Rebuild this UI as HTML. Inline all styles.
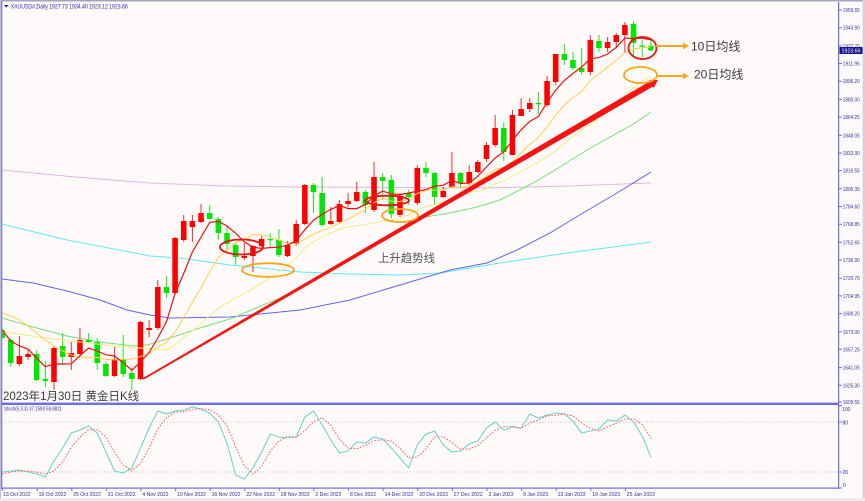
<!DOCTYPE html>
<html><head><meta charset="utf-8">
<style>
html,body{margin:0;padding:0;background:#fffafa;width:865px;height:501px;overflow:hidden}
svg{display:block}
</style></head>
<body>
<svg width="865" height="501" viewBox="0 0 865 501" xmlns="http://www.w3.org/2000/svg" font-family="Liberation Sans, sans-serif">
<defs>
<clipPath id="cm"><rect x="2" y="2" width="836.5" height="400.5"/></clipPath>
<clipPath id="cs"><rect x="2" y="405" width="836.5" height="83"/></clipPath>
</defs>
<rect x="0" y="0" width="865" height="501" fill="#fffafa"/>
<!-- frame -->
<rect x="0" y="0" width="865" height="1.5" fill="#a4a4bc"/>
<rect x="0" y="0" width="1" height="501" fill="#c0c0cc"/>
<rect x="1" y="1" width="1.3" height="488" fill="#7f7fd6"/>
<rect x="862.5" y="0" width="2.5" height="501" fill="#d4d4dc"/>
<rect x="0" y="498" width="865" height="3" fill="#ececee"/>

<!-- main chart -->
<g clip-path="url(#cm)">
 <!-- long MAs -->
 <polyline fill="none" stroke="#e2b6ea" stroke-width="1" points="2,170 75,177 150,183 225,186 300,187 400,187.5 485,188 570,186 651,183"/>
 <polyline fill="none" stroke="#5ee9f6" stroke-width="1" points="2,224 67,240 130,252 150,256 180,258 230,265 270,269 300,272 350,274 400,275 440,273 500,263 567,253 651,242"/>
 <polyline fill="none" stroke="#6464e6" stroke-width="1" points="2,279 33,283 67,291 100,300 127,310 150,315 170,318 230,317 300,310 350,300 400,285 450,270 487,263 517,250 550,233 583,213 617,193 651,172"/>
 <polyline fill="none" stroke="#78e078" stroke-width="1" points="2,318 33,327 67,336 100,342 133,346 147,345 167,339 200,328 233,318 263,305 280,298 300,288 340,265 380,242 418,218 450,213 477,207 500,200 533,183 560,167 587,150 608,138 632,125 651,112"/>

 <g transform="matrix(8.65 0 0 1 2.1 0)">
  <!-- wicks -->
  <path fill="none" stroke="#22e622" stroke-width="1" vector-effect="non-scaling-stroke" d="M0 326V340M1 338V367M4 350V381M5 361V387M7 333V365M10 333V343M11 338V370M12 362V377M14 335V377M15 368V390M19 276V298M24 205V220M25 217V240M26 227V251M27 242V265M31 233V247M32 229V257M36 183V213M37 177V227M42 190V213M44 173V200M45 175V218M47 190V205M49 162V177M50 172V205M53 172V188M58 122V161M62 92V114M65 44V65M66 52V70M67 48V75M69 35V52M73 21V57M74 40V57M75 38.3V51"/>
  <path fill="none" stroke="#ff2a2a" stroke-width="1" vector-effect="non-scaling-stroke" d="M2 336V366M3 349V360M6 346V390M8 342V370M9 328V355M13 347V377M16 321V380M17 320V337M18 280V330M20 237V294M21 215V242M22 215V242M23 204V223M28 243V260M29 245V272M30 236V247M33 241V257M34 220V246M35 184V225M38 207V225M39 200V223M40 193V207M41 182V202M43 162V212M46 193V217M48 165V205M51 187V198M52 152V188M54 165V185M55 160V173M56 142V162M57 115V147M59 110V155M60 98V116M61 98V112M63 76V107M64 54V85M68 35V75M70 37V52M71 33V47M72 22V53"/>
  <!-- bodies -->
  <path fill="#00e600" d="M-0.32 330h0.64V338h-0.64zM0.68 340h0.64V363h-0.64zM3.68 354h0.64V380h-0.64zM4.68 379h0.64V381h-0.64zM6.68 346h0.64V357h-0.64zM9.68 340h0.64V342h-0.64zM10.68 342h0.64V363h-0.64zM11.68 364h0.64V376h-0.64zM13.68 359h0.64V374h-0.64zM14.68 373h0.64V379h-0.64zM18.68 287h0.64V293h-0.64zM23.68 213h0.64V219h-0.64zM24.68 219h0.64V233h-0.64zM25.68 233h0.64V244h-0.64zM26.68 245h0.64V257h-0.64zM30.68 239h0.64V240.2h-0.64zM31.68 240h0.64V255h-0.64zM35.68 185h0.64V192h-0.64zM36.68 193h0.64V225h-0.64zM41.68 192h0.64V205h-0.64zM43.68 177h0.64V181h-0.64zM44.68 180h0.64V214h-0.64zM46.68 193h0.64V197h-0.64zM48.68 168h0.64V173h-0.64zM49.68 173h0.64V197h-0.64zM52.68 173h0.64V183h-0.64zM57.68 128h0.64V152h-0.64zM61.68 103h0.64V104.2h-0.64zM64.68 54h0.64V60h-0.64zM65.68 60h0.64V68h-0.64zM66.68 68h0.64V72h-0.64zM68.68 41h0.64V48h-0.64zM72.68 24h0.64V43h-0.64zM73.68 45.5h0.64V46.8h-0.64zM74.68 45.8h0.64V50.4h-0.64z"/>
  <path fill="#ff0000" d="M1.68 356h0.64V364h-0.64zM2.68 354h0.64V357h-0.64zM5.68 348h0.64V382h-0.64zM7.68 353h0.64V357h-0.64zM8.68 340h0.64V354h-0.64zM12.68 359h0.64V376h-0.64zM15.68 322h0.64V379h-0.64zM16.68 328h0.64V330h-0.64zM17.68 287h0.64V328h-0.64zM19.68 238h0.64V293h-0.64zM20.68 221h0.64V240h-0.64zM21.68 221h0.64V227h-0.64zM22.68 213h0.64V222h-0.64zM27.68 256h0.64V258h-0.64zM28.68 246h0.64V256h-0.64zM29.68 239h0.64V246h-0.64zM32.68 245h0.64V256h-0.64zM33.68 224h0.64V244h-0.64zM34.68 185h0.64V224h-0.64zM37.68 221h0.64V224h-0.64zM38.68 204h0.64V222h-0.64zM39.68 201h0.64V204h-0.64zM40.68 192h0.64V201h-0.64zM42.68 177h0.64V210h-0.64zM45.68 196h0.64V215h-0.64zM47.68 168h0.64V203h-0.64zM50.68 191h0.64V197h-0.64zM51.68 173h0.64V187h-0.64zM53.68 172h0.64V183h-0.64zM54.68 162h0.64V172h-0.64zM55.68 145h0.64V159h-0.64zM56.68 128h0.64V145h-0.64zM58.68 115h0.64V155h-0.64zM59.68 109h0.64V116h-0.64zM60.68 103h0.64V109h-0.64zM62.68 81h0.64V105h-0.64zM63.68 54h0.64V82h-0.64zM67.68 40h0.64V72h-0.64zM69.68 42h0.64V48h-0.64zM70.68 35h0.64V42h-0.64zM71.68 25h0.64V35h-0.64z"/>
  <!-- MA20 pale yellow -->
  <polyline fill="none" stroke="#f4ec7c" stroke-width="1" vector-effect="non-scaling-stroke" points="0,332 2,334 4,337 6,339 8,341 10,343 12,345 14,347 16,348 18,349.5 19,349.7 20,344.7 21,337.6 22,330.8 23,323.8 24,315.7 25,308.3 26,303.1 27,298.1 28,293.3 29,288.6 30,283.4 31,277.3 32,271.2 33,265.5 34,258 35,248.3 36,241.8 37,236.7 38,233.4 39,228.9 40,227.1 41,225.6 42,224.8 43,223 44,221.1 45,220.2 46,217.8 47,214.8 48,210.4 49,206.7 50,204.6 51,202.2 52,198.1 53,195 54,192.4 55,191.2 56,188.9 57,184 58,180.6 59,176.1 60,171.5 61,167.1 62,162 63,157.2 64,150.9 65,143.2 66,136.8 67,130.5 68,124.1 69,117.9 70,110.1 71,102.3 72,94.9 73,87.9 74,81.6 75,76"/>
  <!-- MA10 gold -->
  <polyline fill="none" stroke="#ffd04a" stroke-width="1" vector-effect="non-scaling-stroke" points="0,313 1,316 2,320 3,326 4,333 5,340 6,346 7,351 8,355 9,357 10,357.4 11,357.4 12,359.4 13,359.9 14,359.3 15,359.1 16,356.5 17,353.6 18,347 19,342.3 20,331.9 21,317.7 22,302.2 23,287.6 24,272.1 25,257.5 26,249.7 27,242.6 28,239.5 29,234.8 30,234.9 31,236.8 32,240.2 33,243.4 34,243.9 35,239.1 36,233.9 37,230.7 38,227.2 39,223 40,219.2 41,214.4 42,209.4 43,202.6 44,198.3 45,201.2 46,201.6 47,198.8 48,193.5 49,190.4 50,190 51,189.9 52,186.7 53,187.3 54,186.4 55,181.2 56,176.1 57,169.2 58,167.6 59,161.8 60,153 61,144.2 62,137.3 63,127.1 64,115.3 65,105.1 66,97.4 67,91.8 68,80.6 69,73.9 70,67.2 71,60.4 72,52.5 73,48.7 74,47.9 75,46.9"/>
  <!-- MA5 red -->
  <polyline fill="none" stroke="#ee1111" stroke-width="1.2" vector-effect="non-scaling-stroke" points="0,330 1,341 2,346 3,349 4,358.2 5,366.8 6,363.8 7,364 8,363.8 9,355.8 10,348 11,351 12,354.8 13,356 14,362.8 15,370.2 16,362 17,352.4 18,338 19,321.8 20,293.6 21,273.4 22,252 23,237.2 24,222.4 25,221.4 26,226 27,233.2 28,241.8 29,247.2 30,248.4 31,247.6 32,247.2 33,245 34,240.6 35,229.8 36,220.2 37,214.2 38,209.4 39,205.4 40,208.6 41,208.6 42,204.6 43,195.8 44,191.2 45,193.8 46,194.6 47,193 48,191.2 49,189.6 50,186.2 51,185.2 52,180.4 53,183.4 54,183.2 55,176.2 56,167 57,158 58,151.8 59,140.4 60,129.8 61,121.4 62,116.6 63,102.4 64,90.2 65,80.4 66,73.4 67,67 68,58.8 69,57.6 70,54 71,47.4 72,38 73,38.6 74,38.2 75,39.8"/>
 </g>

 <!-- trendline arrow -->
 <polygon fill="#f41414" points="143.4,379.8 652.6,86.8 653.6,88.0 658,80 648.6,80.2 649.6,81.4 142.6,378.2"/>

 <!-- ellipses -->
 <ellipse cx="241.5" cy="247" rx="21.5" ry="7.5" fill="none" stroke="#e81010" stroke-width="1.8"/>
 <ellipse cx="268" cy="270" rx="26" ry="6.8" fill="none" stroke="#f5a81e" stroke-width="1.8"/>
 <ellipse cx="387" cy="200.5" rx="22" ry="4.8" fill="none" stroke="#e81010" stroke-width="1.8"/>
 <ellipse cx="400" cy="215.5" rx="18" ry="6.5" fill="none" stroke="#f5a81e" stroke-width="1.8"/>
 <ellipse cx="642.5" cy="48" rx="14" ry="11" fill="none" stroke="#e81010" stroke-width="1.8"/>
 <ellipse cx="640.5" cy="75" rx="16.5" ry="8" fill="none" stroke="#f5a81e" stroke-width="1.8"/>
</g>

<!-- orange arrows -->
<line x1="656" y1="46" x2="684" y2="46" stroke="#f5a81e" stroke-width="2"/>
<polygon points="683,42.8 689,46 683,49.2" fill="#f5a81e"/>
<line x1="657" y1="76" x2="684" y2="76" stroke="#f5a81e" stroke-width="2"/>
<polygon points="683,72.8 689,76 683,79.2" fill="#f5a81e"/>

<!-- annotations text -->
<g font-family="Liberation Sans, 'Noto Sans CJK SC', sans-serif" fill="#3a3a3a">
 <text x="691" y="50.5" font-size="12">10日均线</text>
 <text x="694" y="78.5" font-size="12">20日均线</text>
 <text x="378" y="262" font-size="11.4" fill="#555">上升趋势线</text>
 <text x="3" y="400" font-size="11.5" fill="#3c3c3c">2023年1月30日 黄金日K线</text>
</g>

<!-- header -->
<polygon points="4,5 8.5,5 6.25,7.6" fill="#2020a8"/>
<text x="10.7" y="8.6" font-size="6.2" fill="#2a2ab0" textLength="117" lengthAdjust="spacingAndGlyphs">XAUUSD#,Daily  1927.73 1934.40 1923.12 1923.66</text>

<!-- separators and axes -->
<rect x="2" y="402.6" width="837" height="2.4" fill="#6e6ee4"/>
<rect x="2" y="487.5" width="837" height="1.2" fill="#6e6ee4"/>
<rect x="838" y="2" width="1.2" height="487" fill="#6e6ee4"/>

<!-- price axis -->
<g stroke="#6e6ee4" stroke-width="1">
<path d="M839 10H842M839 27.7H842M839 45.9H842M839 63.5H842M839 81.2H842M839 99.4H842M839 117.1H842M839 135.3H842M839 153H842M839 170.6H842M839 188.8H842M839 206.5H842M839 224.2H842M839 242.4H842M839 260H842M839 278.2H842M839 295.9H842M839 313.6H842M839 331.8H842M839 349.4H842M839 367.6H842M839 385.3H842M839 402H842M839 405.5H842M839 422H842M839 472H842M839 488H842"/>
</g>
<g font-size="5.5" fill="#30309a">
<text x="842.8" y="12" textLength="17" lengthAdjust="spacingAndGlyphs">1959.65</text>
<text x="842.8" y="29.7" textLength="17" lengthAdjust="spacingAndGlyphs">1943.90</text>
<text x="842.8" y="47.9" textLength="17" lengthAdjust="spacingAndGlyphs">1927.70</text>
<text x="842.8" y="65.5" textLength="17" lengthAdjust="spacingAndGlyphs">1911.95</text>
<text x="842.8" y="83.2" textLength="17" lengthAdjust="spacingAndGlyphs">1896.20</text>
<text x="842.8" y="101.4" textLength="17" lengthAdjust="spacingAndGlyphs">1880.00</text>
<text x="842.8" y="119.1" textLength="17" lengthAdjust="spacingAndGlyphs">1864.25</text>
<text x="842.8" y="137.3" textLength="17" lengthAdjust="spacingAndGlyphs">1848.05</text>
<text x="842.8" y="155" textLength="17" lengthAdjust="spacingAndGlyphs">1832.30</text>
<text x="842.8" y="172.6" textLength="17" lengthAdjust="spacingAndGlyphs">1816.55</text>
<text x="842.8" y="190.8" textLength="17" lengthAdjust="spacingAndGlyphs">1800.35</text>
<text x="842.8" y="208.5" textLength="17" lengthAdjust="spacingAndGlyphs">1784.60</text>
<text x="842.8" y="226.2" textLength="17" lengthAdjust="spacingAndGlyphs">1768.85</text>
<text x="842.8" y="244.4" textLength="17" lengthAdjust="spacingAndGlyphs">1752.65</text>
<text x="842.8" y="262" textLength="17" lengthAdjust="spacingAndGlyphs">1736.90</text>
<text x="842.8" y="280.2" textLength="17" lengthAdjust="spacingAndGlyphs">1720.70</text>
<text x="842.8" y="297.9" textLength="17" lengthAdjust="spacingAndGlyphs">1704.95</text>
<text x="842.8" y="315.6" textLength="17" lengthAdjust="spacingAndGlyphs">1689.20</text>
<text x="842.8" y="333.8" textLength="17" lengthAdjust="spacingAndGlyphs">1673.00</text>
<text x="842.8" y="351.4" textLength="17" lengthAdjust="spacingAndGlyphs">1657.25</text>
<text x="842.8" y="369.6" textLength="17" lengthAdjust="spacingAndGlyphs">1641.05</text>
<text x="842.8" y="387.3" textLength="17" lengthAdjust="spacingAndGlyphs">1625.30</text>
<text x="842.8" y="404.2" textLength="17" lengthAdjust="spacingAndGlyphs">1609.55</text>
<text x="842" y="410.8" textLength="8.5" lengthAdjust="spacingAndGlyphs">100</text>
<text x="842.5" y="424.3" textLength="5.6" lengthAdjust="spacingAndGlyphs">80</text>
<text x="842.5" y="473.8" textLength="5.6" lengthAdjust="spacingAndGlyphs">20</text>
<text x="843" y="487" textLength="2.8" lengthAdjust="spacingAndGlyphs">0</text>
</g>
<!-- current price -->
<rect x="839.5" y="47" width="23" height="7" fill="#14148c"/>
<text x="841.5" y="52.6" font-size="5.5" fill="#ffffff" textLength="19" lengthAdjust="spacingAndGlyphs">1923.66</text>

<!-- stochastic -->
<g clip-path="url(#cs)">
 <path d="M2 422H838M2 472H838" stroke="#c4c4c4" stroke-width="1" stroke-dasharray="1,2"/>
 <g transform="matrix(8.65 0 0 1 2.1 0)">
  <polyline fill="none" stroke="#6fd3cd" stroke-width="1.1" vector-effect="non-scaling-stroke" points="0,472 1,471 2,470 3,472 4,474 5,477 6,461 7,448 8,433 9,430 10,426 11,433 12,452 13,471 14,473 15,468 16,448 17,428 18,411 19,414 20,411 21,410 22,407 23,409 24,413 25,422 26,443 27,475 28,479 29,468 30,452 31,434 32,437 33,438 34,437 35,417 36,411 37,425 38,440 39,453 40,451 41,442 42,443 43,437 44,439 45,448 46,458 47,468 48,445 49,434 50,431 51,445 52,452 53,451 54,444 55,441 56,428 57,422 58,430 59,427 60,428 61,414 62,418 63,415 64,413 65,414 66,421 67,433 68,431 69,429 70,420 71,421 72,415 73,422 74,436 75,457"/>
 </g>
 <polyline fill="none" stroke="#ff5a5a" stroke-width="1" stroke-dasharray="1.6,1.6" points="2.1,474 10.8,472 19.4,471 28.1,471 36.7,472 45.4,474.3 54,470.7 62.7,462 71.3,447.3 80,437 88.6,429.7 97.3,429.7 105.9,437 114.6,452 123.2,465.3 131.9,470.7 140.5,463 149.2,448 157.8,429 166.5,417.7 175.1,412 183.8,411.7 192.4,409.3 201.1,408.7 209.7,409.7 218.4,414.7 227,426 235.7,446.7 244.3,465.7 253,474 261.6,466.3 270.3,451.3 278.9,441 287.6,436.3 296.2,437.3 304.9,430.7 313.5,421.7 322.2,417.7 330.8,425.3 339.5,439.3 348.1,448 356.8,448.7 365.4,445.3 374.1,440.7 382.7,439.7 391.4,441.3 400,448.3 408.7,458 417.3,457 426,449 434.6,436.7 443.3,436.7 451.9,442.7 460.6,449.3 469.2,449 477.9,445.3 486.5,437.7 495.2,430.3 503.8,426.7 512.5,426.3 521.1,428.3 529.8,423 538.4,420 547.1,415.7 555.7,415.3 564.4,414 573,416 581.7,422.7 590.3,428.3 599,431 607.6,426.7 616.3,423.3 624.9,418.7 633.6,419.3 642.2,424.3 650.9,438.3"/>
</g>
<text x="4" y="410.6" font-size="5.4" fill="#2a2ab0" textLength="58" lengthAdjust="spacingAndGlyphs">Stoch(5,3,3) 37.1593 59.8821</text>

<!-- date axis -->
<path stroke="#6e6ee4" stroke-width="1" d="M2.6 488V491M37.2 488V491M71.8 488V491M106.4 488V491M141 488V491M175.6 488V491M210.2 488V491M244.8 488V491M279.4 488V491M314 488V491M348.6 488V491M383.2 488V491M417.8 488V491M452.4 488V491M487 488V491M521.6 488V491M556.2 488V491M590.8 488V491M625.4 488V491"/>
<g font-size="5.1" fill="#30309a">
<text x="3" y="496">13 Oct 2022</text>
<text x="38.6" y="496">19 Oct 2022</text>
<text x="73.2" y="496">25 Oct 2022</text>
<text x="107.8" y="496">31 Oct 2022</text>
<text x="142.4" y="496">4 Nov 2022</text>
<text x="177" y="496">10 Nov 2022</text>
<text x="211.6" y="496">16 Nov 2022</text>
<text x="246.2" y="496">22 Nov 2022</text>
<text x="280.8" y="496">28 Nov 2022</text>
<text x="315.4" y="496">2 Dec 2022</text>
<text x="350" y="496">8 Dec 2022</text>
<text x="384.6" y="496">14 Dec 2022</text>
<text x="419.2" y="496">20 Dec 2022</text>
<text x="453.8" y="496">27 Dec 2022</text>
<text x="488.4" y="496">3 Jan 2023</text>
<text x="523" y="496">9 Jan 2023</text>
<text x="557.6" y="496">13 Jan 2023</text>
<text x="592.2" y="496">19 Jan 2023</text>
<text x="626.8" y="496">25 Jan 2023</text>
</g>
</svg>
</body></html>
